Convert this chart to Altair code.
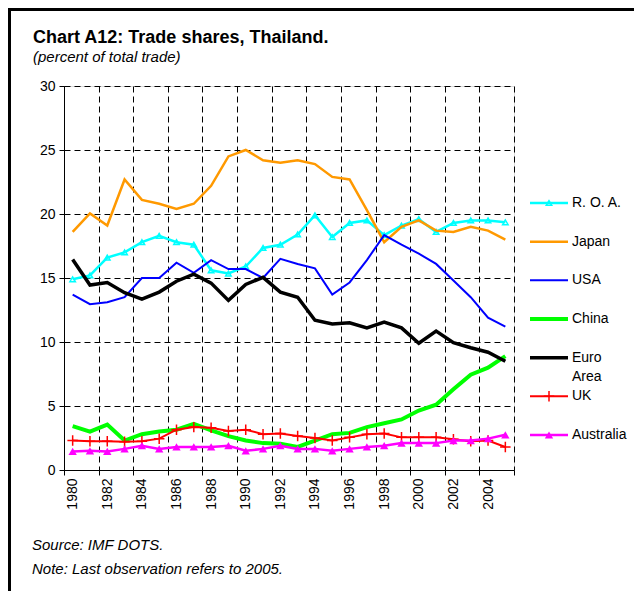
import altair as alt
import pandas as pd

# ---------------- data ----------------
years = list(range(1980, 2006))
roa = [14.9, 15.2, 16.6, 17.0, 17.8, 18.3, 17.8, 17.6, 15.6, 15.35,
       15.9, 17.35, 17.6, 18.4, 19.9, 18.2, 19.3, 19.5, 18.35, 19.1,
       19.6, 18.6, 19.3, 19.5, 19.5, 19.35]
japan = [18.6, 20.05, 19.1, 22.7, 21.1, 20.8, 20.4, 20.8, 22.2, 24.5,
         25.0, 24.2, 24.0, 24.2, 23.9, 22.9, 22.7, 20.3, 17.8, 19.0,
         19.5, 18.7, 18.6, 19.0, 18.7, 18.0]
usa = [13.7, 12.95, 13.1, 13.5, 15.0, 15.0, 16.2, 15.4, 16.4, 15.7,
       15.7, 15.0, 16.5, 16.1, 15.75, 13.7, 14.65, 16.4, 18.35, 17.6,
       16.9, 16.1, 14.8, 13.5, 11.9, 11.2]
china = [3.43, 3.0, 3.55, 2.3, 2.8, 3.0, 3.15, 3.6, 3.1, 2.65,
         2.3, 2.1, 2.05, 1.8, 2.3, 2.8, 2.9, 3.35, 3.65, 3.95,
         4.65, 5.1, 6.3, 7.45, 8.0, 8.9]
euro = [16.45, 14.45, 14.65, 13.85, 13.35, 13.9, 14.75, 15.3, 14.6, 13.25,
        14.5, 15.05, 13.9, 13.5, 11.7, 11.4, 11.5, 11.1, 11.55, 11.1,
        9.9, 10.85, 9.95, 9.55, 9.2, 8.5]
uk = [2.3, 2.25, 2.25, 2.2, 2.25, 2.45, 3.15, 3.35, 3.3, 3.05,
      3.15, 2.8, 2.85, 2.65, 2.5, 2.3, 2.55, 2.8, 2.85, 2.55,
      2.55, 2.55, 2.4, 2.25, 2.3, 1.8]
australia = [1.45, 1.5, 1.45, 1.65, 1.9, 1.65, 1.8, 1.8, 1.8, 1.9,
             1.5, 1.65, 1.9, 1.65, 1.65, 1.5, 1.65, 1.8, 1.9, 2.1,
             2.1, 2.1, 2.3, 2.3, 2.45, 2.75]

names = ["R. O. A.", "Japan", "USA", "China", "Euro Area", "UK", "Australia"]
legend_labels = ["R. O. A.", "Japan", "USA", "China", "Euro\nArea", "UK", "Australia"]
series_values = [roa, japan, usa, china, euro, uk, australia]
y_ticks = [0, 5, 10, 15, 20, 25, 30]

title_text = "Chart A12: Trade shares, Thailand."
subtitle_text = "(percent of total trade)"
notes = ["Source: IMF DOTS.", "Note: Last observation refers to 2005."]

# ---------------- styles ----------------
colors = ["#00FFFF", "#FF9900", "#0000FF", "#00FF00", "#000000", "#FF0000", "#FF00FF"]
widths = [2.5, 2.5, 2, 4, 3.5, 2, 2.5]
markers = ["tri_open", None, None, None, None, "cross", "tri_fill"]
FONT = "Liberation Sans"
W, H = 450, 384
PAD = {"left": 56, "top": 78, "right": 120, "bottom": 121}

df = pd.DataFrame([
    {"year": y, "series": n, "value": v}
    for n, vals in zip(names, series_values)
    for y, v in zip(years, vals)
])
legend_df = pd.DataFrame({"series": names, "label": legend_labels,
                          "idx": list(range(len(names)))})

bounds = [y - 0.5 for y in years[::2]] + [years[-1] + 0.5]

x_enc = alt.X(
    "year:Q",
    scale=alt.Scale(domain=[years[0] - 0.5, years[-1] + 0.5], nice=False, zero=False),
    axis=alt.Axis(
        values=bounds, title=None, labelAngle=270,
        labelOffset=W / len(years) / 2,
        labelExpr=f"datum.value < {years[-1]} ? toString(datum.value + 0.5) : ''",
        labelFlush=False, labelOverlap=False,
        grid=True, gridDash=[6, 4], gridColor="black", gridOpacity=1, gridWidth=1,
        domainColor="black", tickColor="black", tickSize=5, labelPadding=3,
        labelFont=FONT, labelFontSize=14, labelColor="black",
    ),
)
y_enc = alt.Y(
    "value:Q",
    scale=alt.Scale(domain=[y_ticks[0], y_ticks[-1]], nice=False),
    axis=alt.Axis(
        values=y_ticks, title=None,
        grid=True, gridDash=[6, 4], gridColor="black", gridOpacity=1, gridWidth=1,
        domainColor="black", tickColor="black", tickSize=5, labelPadding=4,
        labelFont=FONT, labelFontSize=14, labelColor="black",
    ),
)

marker_props = {
    "tri_open": dict(shape="triangle-up", size=30, filled=False, strokeWidth=1.5),
    "cross": dict(shape="M-1,0L1,0M0,-1L0,1", size=110, filled=False, strokeWidth=1.5),
    "tri_fill": dict(shape="triangle-up", size=70, filled=True, strokeWidth=1),
}

main_layers = []
for n, c, w, m in zip(names, colors, widths, markers):
    base = alt.Chart(df).transform_filter(alt.datum.series == n)
    main_layers.append(
        base.mark_line(color=c, strokeWidth=w).encode(x=x_enc, y=y_enc)
    )
    if m:
        main_layers.append(
            base.mark_point(color=c, opacity=1, **marker_props[m]).encode(x=x_enc, y=y_enc)
        )
main = alt.layer(*main_layers)

# ---------------- manual legend ----------------
leg_y = alt.Y("idx:Q", scale=alt.Scale(domain=[0, len(names) - 1], range=[117, 349]), axis=None)
leg_base = alt.Chart(legend_df)
leg_layers = []
for n, c, w, m in zip(names, colors, widths, markers):
    b = leg_base.transform_filter(alt.datum.series == n)
    leg_layers.append(
        b.mark_rule(color=c, strokeWidth=w).encode(
            x=alt.value(466), x2=alt.value(504), y=leg_y)
    )
    if m:
        leg_layers.append(
            b.mark_point(color=c, opacity=1, **marker_props[m]).encode(
                x=alt.value(485), y=leg_y)
        )
leg_layers.append(
    leg_base.mark_text(align="left", baseline="top", dy=-7, font=FONT, fontSize=14,
                       color="black", lineBreak="\n", lineHeight=19).encode(
        x=alt.value(508), y=leg_y, text="label:N")
)
legend = alt.layer(*leg_layers)

# ---------------- texts: title, subtitle, notes, frame ----------------
one = pd.DataFrame({"k": [0]})
text_layers = [
    alt.Chart(one).mark_text(align="left", baseline="alphabetic", font=FONT, fontSize=18,
                             fontWeight="bold", color="black").encode(
        x=alt.value(-31), y=alt.value(-43), text=alt.value(title_text)),
    alt.Chart(one).mark_text(align="left", baseline="alphabetic", font=FONT, fontSize=15,
                             fontStyle="italic", color="black").encode(
        x=alt.value(-31), y=alt.value(-24), text=alt.value(subtitle_text)),
    alt.Chart(one).mark_text(align="left", baseline="middle", font=FONT, fontSize=15,
                             fontStyle="italic", color="black").encode(
        x=alt.value(-32), y=alt.value(459), text=alt.value(notes[0])),
    alt.Chart(one).mark_text(align="left", baseline="middle", font=FONT, fontSize=15,
                             fontStyle="italic", color="black").encode(
        x=alt.value(-32), y=alt.value(483), text=alt.value(notes[1])),
    alt.Chart(one).mark_rule(color="black", strokeWidth=3).encode(
        x=alt.value(-PAD["left"]), x2=alt.value(W + PAD["right"]), y=alt.value(-PAD["top"] + 1.5)),
    alt.Chart(one).mark_rule(color="black", strokeWidth=3).encode(
        x=alt.value(-PAD["left"] + 1.5), y=alt.value(-PAD["top"]), y2=alt.value(H + PAD["bottom"])),
]
texts = alt.layer(*text_layers)

chart = alt.layer(main, legend, texts).resolve_scale(y="independent").properties(
    width=W, height=H,
    padding=PAD,
    autosize=alt.AutoSizeParams(type="none"),
).configure_view(stroke=None).configure(background="white")

chart.save("out.html", embed_options={"renderer": "svg", "actions": False})
